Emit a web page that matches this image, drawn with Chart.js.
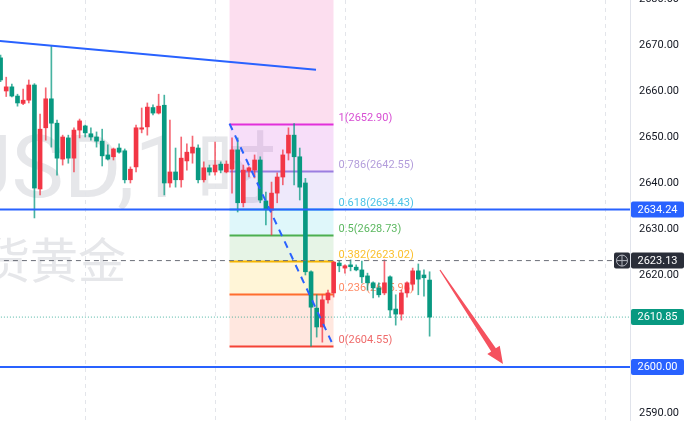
<!DOCTYPE html>
<html>
<head>
<meta charset="utf-8">
<script src="https://cdn.jsdelivr.net/npm/chart.js@4.4.1/dist/chart.umd.min.js"></script>
<style>
  html, body { margin: 0; padding: 0; background: #fff; overflow: hidden; }
  #wrap { width: 692px; height: 421px; }
</style>
</head>
<body>
<div id="wrap"><canvas id="kline" width="692" height="421"></canvas></div>
<script>
// XAUUSD 1h candles (red = up, green = down)
var opens = [2667.2,2660.0,2660.9,2658.9,2657.3,2658.0,2661.3,2638.7,2652.0,2658.3,
             2653.0,2645.2,2649.8,2645.4,2651.5,2652.4,2650.7,2650.0,2649.1,2646.1,
             2645.7,2647.6,2647.0,2640.7,2643.5,2651.7,2652.2,2656.4,2655.2,2656.9,
             2640.0,2642.4,2640.7,2644.8,2646.5,2647.6,2640.7,2643.3,2642.4,2644.1,
             2642.4,2643.0,2647.2,2635.7,2642.6,2642.8,2645.0,2636.1,2634.1,2637.8,
             2641.3,2646.5,2650.4,2645.7,2640.0,2620.7,2612.8,2608.7,2614.6,2616.1,
             2622.6,2621.5,2622.2,2621.7,2621.1,2619.8,2618.3,2617.2,2616.1,2619.6,
             2612.6,2611.5,2616.1,2618.0,2620.9,2620.0,2618.9];
var highs = [2667.8,2663.0,2661.5,2659.3,2660.4,2662.4,2661.6,2655.0,2660.7,2669.8,
             2653.7,2650.4,2650.4,2652.0,2653.9,2652.6,2652.0,2651.1,2651.7,2648.3,
             2647.6,2648.5,2647.4,2643.5,2652.6,2656.3,2657.4,2657.0,2659.3,2659.1,
             2653.7,2647.6,2650.0,2648.5,2650.2,2648.3,2644.6,2643.9,2648.9,2644.6,
             2644.8,2649.8,2649.8,2643.9,2643.5,2646.1,2645.7,2638.0,2640.2,2642.2,
             2647.2,2652.0,2652.9,2647.6,2641.0,2620.9,2615.7,2615.7,2616.7,2623.0,
             2623.0,2622.2,2623.3,2622.2,2623.0,2620.4,2618.5,2618.3,2623.3,2619.8,
             2615.7,2616.7,2618.5,2621.5,2622.4,2621.1,2620.7];
var lows = [2662.0,2658.8,2658.7,2656.7,2657.0,2657.4,2632.4,2637.4,2649.3,2647.8,
            2641.7,2643.9,2644.3,2642.4,2649.8,2650.0,2649.3,2647.8,2643.7,2645.0,
            2645.0,2646.5,2640.0,2640.0,2642.4,2650.9,2650.4,2654.8,2655.0,2637.4,
            2639.1,2639.1,2639.1,2642.8,2644.3,2640.0,2640.2,2641.7,2641.7,2642.2,
            2642.2,2637.8,2633.7,2634.8,2641.3,2641.1,2635.7,2630.9,2628.7,2635.7,
            2639.6,2645.0,2639.6,2636.3,2620.0,2604.55,2606.5,2605.4,2613.9,2615.2,
            2620.7,2620.4,2620.9,2620.9,2618.3,2616.7,2615.0,2615.2,2615.7,2610.7,
            2609.1,2610.2,2615.2,2616.7,2615.7,2615.4,2606.7];
var closes = [2662.4,2660.9,2658.9,2657.4,2658.0,2661.3,2638.9,2651.7,2658.3,2653.0,
              2645.4,2650.0,2645.4,2651.5,2653.5,2650.9,2650.0,2649.1,2645.9,2645.2,
              2647.4,2646.7,2640.7,2643.0,2652.0,2652.0,2656.5,2655.2,2656.7,2640.0,
              2642.4,2640.7,2645.4,2646.7,2647.8,2640.7,2643.3,2642.4,2643.9,2642.8,
              2644.1,2647.2,2635.7,2642.8,2643.3,2645.0,2636.3,2634.3,2637.8,2641.3,
              2646.1,2650.4,2645.7,2639.1,2620.7,2613.0,2608.7,2614.6,2616.1,2622.8,
              2622.0,2622.0,2621.8,2621.1,2619.6,2618.3,2617.2,2615.7,2618.3,2612.4,
              2611.5,2616.1,2618.3,2620.9,2619.1,2619.4,2610.85];

// fibonacci retracement drawn from candle 40.56 (high) to 58.98 (low)
var fibLevels = ["1", "0.786", "0.618", "0.5", "0.382", "0.236", "0"];
var fibPrices = [2652.90, 2642.55, 2634.43, 2628.73, 2623.02, 2615.96, 2604.55];
var fibFrom = 40.56, fibTo = 58.98;

// other drawings
var trendX = [-1, 55.88];
var trendY = [2670.98, 2664.63];
var supportLines = [2634.24, 2600.00];
var lastPrice = 2610.85;
var crossPrice = 2623.13;
var arrowX = [77.84, 89.0];
var arrowY = [2621.09, 2600.65];
var gridX = [15, 38, 61, 84, 107];

var upColor = '#f23645', downColor = '#089981';
var idx = opens.map(function (v, i) { return i; });
function isUp(i) { return closes[i] >= opens[i]; }

var wickData = idx.map(function (i) { return { x: i, y: [lows[i], highs[i]] }; });
var bodyData = idx.map(function (i) { return { x: i, y: [opens[i], closes[i]] }; });
var wickColors = idx.map(function (i) { return isUp(i) ? 'rgba(242,54,69,0.75)' : 'rgba(8,153,129,0.75)'; });
var bodyColors = idx.map(function (i) { return isUp(i) ? upColor : downColor; });

function flat(v, x0, x1) { return [{ x: x0, y: v }, { x: x1, y: v }]; }

var fibLineColors = ['#e22fd9', '#9a7ee0', '#4dd0e1', '#4caf50', '#f7b500', '#ff6d2d', '#f44336'];
var fibTextColors = ['#d74fd3', '#b39ddb', '#4dc3e6', '#5cb860', '#fbc02d', '#ff8a65', '#ef6b6b'];
var fibFillColors = ['rgba(240,80,170,0.19)', 'rgba(215,90,225,0.2)', 'rgba(150,120,230,0.16)',
                     'rgba(77,208,225,0.18)', 'rgba(76,175,80,0.14)', 'rgba(255,193,7,0.16)',
                     'rgba(255,112,67,0.17)'];

function tag(ctx, x, y, w, h, bg, text) {
  ctx.fillStyle = bg;
  ctx.beginPath();
  if (ctx.roundRect) ctx.roundRect(x, y - h / 2, w, h, 2); else ctx.rect(x, y - h / 2, w, h);
  ctx.fill();
  ctx.fillStyle = '#ffffff';
  ctx.font = '11px Roboto, "Liberation Sans", sans-serif';
  ctx.textAlign = 'center';
  ctx.textBaseline = 'middle';
  ctx.fillText(text, x + w / 2, y + 0.5);
}

var overlay = {
  id: 'overlay',
  beforeDraw: function (chart) {
    var ctx = chart.ctx, a = chart.chartArea;
    ctx.save();
    ctx.fillStyle = '#ffffff';
    ctx.fillRect(0, 0, chart.width, chart.height);
    ctx.beginPath();
    ctx.rect(a.left, a.top, a.right - a.left, a.bottom - a.top);
    ctx.clip();
    ctx.fillStyle = '#e6e7ea';
    ctx.textBaseline = 'alphabetic';
    ctx.font = '88px Roboto, "Noto Sans CJK SC", sans-serif';
    ctx.textAlign = 'right';
    ctx.fillText('XAUUSD,1', 184, 197);
    ctx.font = '80px "Noto Sans CJK SC", sans-serif';
    ctx.textAlign = 'left';
    ctx.fillText('\u65f6', 196, 197);
    ctx.font = '48px "Noto Sans CJK SC", sans-serif';
    ctx.textAlign = 'right';
    ctx.fillText('\u73b0\u8d27\u9ec4\u91d1', 126, 278);
    ctx.restore();
  },
  beforeDatasetsDraw: function (chart) {
    var ctx = chart.ctx, a = chart.chartArea;
    var xs = chart.scales.x, ys = chart.scales.y;
    ctx.save();
    ctx.beginPath();
    ctx.rect(a.left, a.top, a.right - a.left, a.bottom - a.top);
    ctx.clip();
    // vertical dashed grid
    ctx.strokeStyle = '#e3e5ea';
    ctx.lineWidth = 1;
    ctx.setLineDash([4, 4]);
    gridX.forEach(function (g) {
      var px = Math.round(xs.getPixelForValue(g)) + 0.5;
      ctx.beginPath(); ctx.moveTo(px, a.top); ctx.lineTo(px, a.bottom); ctx.stroke();
    });
    ctx.setLineDash([]);
    // fib zones
    var x0 = xs.getPixelForValue(fibFrom), x1 = xs.getPixelForValue(fibTo);
    var top = a.top;
    for (var i = 0; i < fibPrices.length; i++) {
      var yb = ys.getPixelForValue(fibPrices[i]);
      ctx.fillStyle = fibFillColors[i];
      ctx.fillRect(x0, top, x1 - x0, yb - top);
      top = yb;
    }
    // fib lines and labels
    ctx.font = '11px Roboto, "Liberation Sans", sans-serif';
    ctx.textAlign = 'left';
    ctx.textBaseline = 'bottom';
    for (var k = 0; k < fibPrices.length; k++) {
      var py = Math.round(ys.getPixelForValue(fibPrices[k])) + 0.5;
      ctx.strokeStyle = fibLineColors[k];
      ctx.lineWidth = 2;
      ctx.beginPath(); ctx.moveTo(x0, py); ctx.lineTo(x1, py); ctx.stroke();
      ctx.fillStyle = fibTextColors[k];
      ctx.fillText(fibLevels[k] + '(' + fibPrices[k].toFixed(2) + ')', x1 + 5, py - 1);
    }
    ctx.restore();
  },
  afterDatasetsDraw: function (chart) {
    var ctx = chart.ctx, xs = chart.scales.x, ys = chart.scales.y;
    var sx = xs.getPixelForValue(arrowX[0]), sy = ys.getPixelForValue(arrowY[0]);
    var ex = xs.getPixelForValue(arrowX[1]), ey = ys.getPixelForValue(arrowY[1]);
    var dx = ex - sx, dy = ey - sy, len = Math.sqrt(dx * dx + dy * dy);
    var ux = dx / len, uy = dy / len, nx = -uy, ny = ux;
    var headLen = 17, headW = 7.5;
    var bx = ex - ux * headLen, by = ey - uy * headLen;
    ctx.save();
    ctx.fillStyle = '#f5515e';
    ctx.beginPath();
    ctx.moveTo(sx + nx * 0.6, sy + ny * 0.6);
    ctx.lineTo(bx + nx * 2.8, by + ny * 2.8);
    ctx.lineTo(bx + nx * headW, by + ny * headW);
    ctx.lineTo(ex, ey);
    ctx.lineTo(bx - nx * headW, by - ny * headW);
    ctx.lineTo(bx - nx * 2.8, by - ny * 2.8);
    ctx.lineTo(sx - nx * 0.6, sy - ny * 0.6);
    ctx.closePath();
    ctx.fill();
    ctx.restore();
  },
  afterDraw: function (chart) {
    var ctx = chart.ctx, ys = chart.scales.y, a = chart.chartArea;
    ctx.save();
    // partly visible top tick
    ctx.fillStyle = '#131722';
    ctx.font = '11px Roboto, "Liberation Sans", sans-serif';
    ctx.textAlign = 'left';
    ctx.textBaseline = 'middle';
    ctx.fillText('2680.00', a.right + 9, ys.getPixelForValue(2680));
    var tx = a.right + 1;
    tag(ctx, tx, ys.getPixelForValue(supportLines[0]), 53, 16, '#2962ff', supportLines[0].toFixed(2));
    tag(ctx, tx, ys.getPixelForValue(crossPrice), 53, 16, '#2a2e39', crossPrice.toFixed(2));
    tag(ctx, tx, ys.getPixelForValue(lastPrice), 53, 16, '#089981', lastPrice.toFixed(2));
    tag(ctx, tx, ys.getPixelForValue(supportLines[1]), 53, 16, '#2962ff', supportLines[1].toFixed(2));
    // crosshair "+" button
    var cy = ys.getPixelForValue(crossPrice);
    ctx.fillStyle = '#2a2e39';
    ctx.beginPath();
    if (ctx.roundRect) ctx.roundRect(a.right - 16, cy - 8, 16, 16, 2); else ctx.rect(a.right - 16, cy - 8, 16, 16);
    ctx.fill();
    ctx.strokeStyle = '#b2b5be';
    ctx.lineWidth = 1;
    ctx.beginPath(); ctx.arc(a.right - 8, cy, 5.5, 0, Math.PI * 2); ctx.stroke();
    ctx.beginPath();
    ctx.moveTo(a.right - 8, cy - 5.5); ctx.lineTo(a.right - 8, cy + 5.5);
    ctx.moveTo(a.right - 13.5, cy); ctx.lineTo(a.right - 2.5, cy);
    ctx.stroke();
    ctx.restore();
  }
};

new Chart(document.getElementById('kline'), {
  type: 'bar',
  data: {
    datasets: [
      { type: 'bar', data: wickData, backgroundColor: wickColors, barThickness: 1, grouped: false, order: 4 },
      { type: 'bar', data: bodyData, backgroundColor: bodyColors, barThickness: 4, grouped: false, order: 3 },
      { type: 'line', data: [{ x: trendX[0], y: trendY[0] }, { x: trendX[1], y: trendY[1] }],
        borderColor: '#2962ff', borderWidth: 2, pointRadius: 0, order: 1 },
      { type: 'line', data: flat(supportLines[0], -1, 115), borderColor: '#2962ff', borderWidth: 2, pointRadius: 0, order: 1 },
      { type: 'line', data: flat(supportLines[1], -1, 115), borderColor: '#2962ff', borderWidth: 2, pointRadius: 0, order: 1 },
      { type: 'line', data: flat(crossPrice, -1, 108.6), borderColor: '#6b6e78', borderWidth: 1,
        borderDash: [5, 4], pointRadius: 0, order: 1 },
      { type: 'line', data: flat(lastPrice, -1, 115), borderColor: 'rgba(8,153,129,0.7)', borderWidth: 1,
        borderDash: [1, 2], pointRadius: 0, order: 2 },
      { type: 'line', data: [{ x: fibFrom, y: fibPrices[0] }, { x: fibTo, y: fibPrices[fibPrices.length - 1] }],
        borderColor: '#2962ff', borderWidth: 2, borderDash: [7, 6], pointRadius: 0, order: 1 }
    ]
  },
  options: {
    responsive: false,
    animation: false,
    events: [],
    layout: { padding: 0 },
    plugins: { legend: { display: false }, tooltip: { enabled: false } },
    scales: {
      x: { type: 'linear', min: -0.1, max: 111.5, offset: false, display: false },
      y: {
        position: 'right',
        min: 2588.26,
        max: 2679.78,
        afterFit: function (s) {
          s.width = 62;
          s.paddingTop = 0;
          s.paddingBottom = 0;
        },
        grid: { display: false, drawTicks: false },
        border: { display: true, color: '#e0e3eb', width: 1 },
        ticks: {
          stepSize: 10,
          includeBounds: false,
          padding: 9,
          color: '#131722',
          font: { family: 'Roboto, "Liberation Sans", sans-serif', size: 11 },
          callback: function (v) { return v.toFixed(2); }
        }
      }
    }
  },
  plugins: [overlay]
});
</script>
</body>
</html>
